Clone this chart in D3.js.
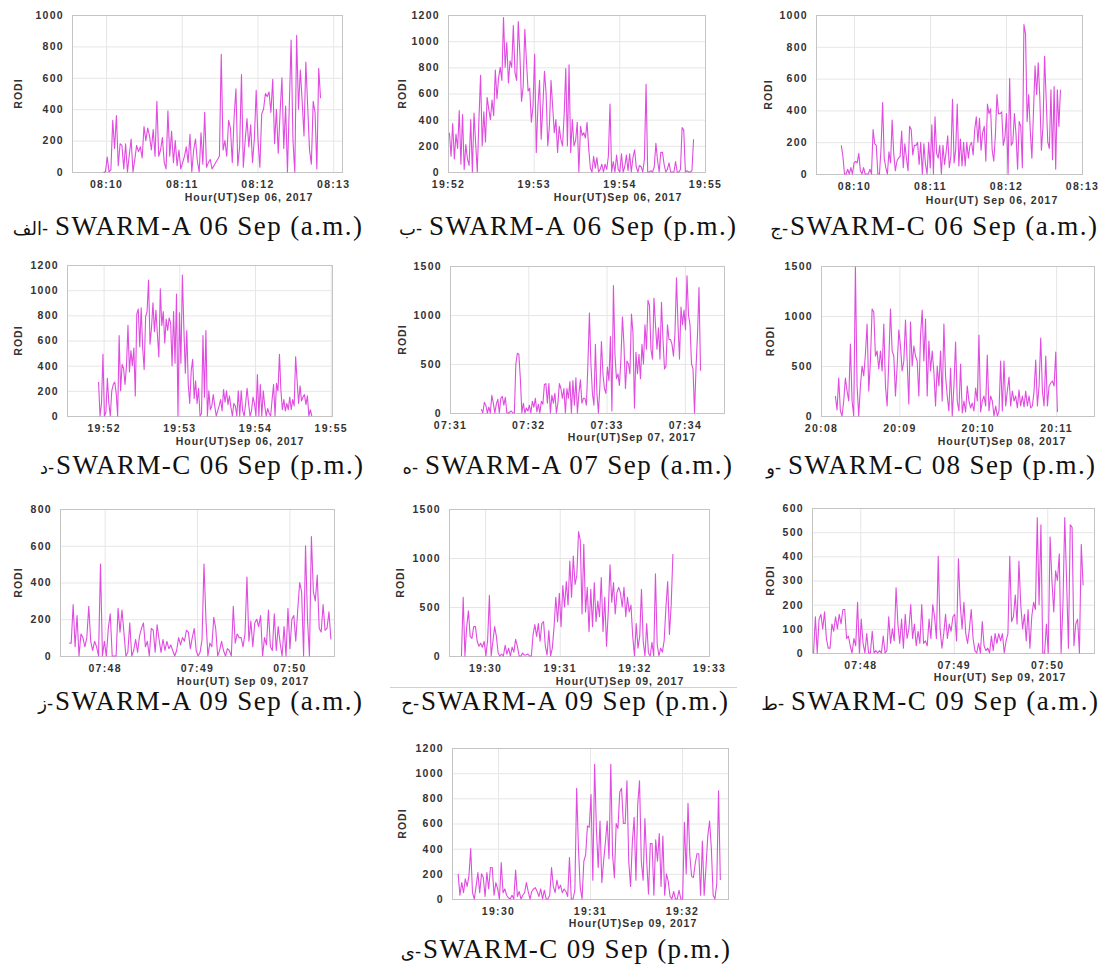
<!DOCTYPE html>
<html>
<head>
<meta charset="utf-8">
<script src="https://cdn.jsdelivr.net/npm/d3@7"></script>
<style>
  html, body { margin: 0; padding: 0; background: #fff; }
  svg { display: block; }
  .tick text { font-family: "Liberation Sans", Arial, sans-serif; font-weight: bold; font-size: 10.5px; fill: #333; letter-spacing: 1.3px; }
  .lbl { font-family: "Liberation Sans", Arial, sans-serif; font-weight: bold; font-size: 10.5px; fill: #333; letter-spacing: 1px; }
  .cap { font-family: "Liberation Serif", "Times New Roman", serif; font-size: 27px; fill: #111; }
  .capAr { font-family: "DejaVu Serif", "Noto Sans", "DejaVu Sans", serif; font-size: 18px; fill: #111; }
</style>
</head>
<body>
<svg id="chart" width="1102" height="969"></svg>
<script>
// ---------------- DATA ----------------
const p1Values = [0,0,95,0,15,330,150,360,40,180,170,20,180,0,110,210,0,80,170,130,160,90,290,200,280,230,140,270,100,450,100,140,220,60,20,390,100,260,60,200,40,140,20,60,100,160,60,240,0,140,210,70,0,250,50,380,30,60,80,20,40,60,80,100,750,140,200,100,330,280,60,350,530,40,160,620,30,200,340,160,300,60,210,520,200,30,370,400,500,480,510,380,590,180,400,120,380,600,150,420,0,420,840,200,0,870,400,650,450,230,700,420,140,50,450,380,20,660,470];
const p2Values = [300,120,370,100,290,180,470,60,440,20,210,100,50,400,0,450,220,0,400,740,200,460,230,570,480,400,550,430,780,560,720,800,700,1180,800,990,680,850,800,1120,760,700,1150,900,540,650,1090,850,620,640,380,500,900,150,500,700,250,500,770,600,200,350,700,500,300,400,150,350,250,200,430,790,200,820,150,400,200,240,380,0,350,280,300,260,380,180,30,0,120,30,110,0,20,60,0,60,20,120,520,0,80,0,130,20,0,140,0,40,130,10,140,0,110,170,40,0,50,40,0,100,670,0,0,10,0,40,220,90,0,150,150,60,0,20,70,0,0,0,80,0,0,20,340,320,0,10,0,0,10,250];
const p3Values = [180,110,0,0,30,0,40,0,70,80,70,130,20,0,40,0,0,0,30,0,280,190,180,0,0,160,450,100,40,0,140,70,340,130,20,80,100,110,270,40,190,100,20,300,280,120,180,180,200,60,200,0,190,60,0,200,40,310,0,360,130,100,180,0,180,60,140,240,40,110,470,70,150,440,50,220,50,200,50,200,100,180,200,120,280,360,200,350,150,260,300,80,440,380,410,150,80,240,500,380,380,390,180,230,380,0,600,180,200,380,250,30,330,300,40,940,880,330,500,270,100,390,680,500,700,480,150,300,740,470,200,160,530,90,550,30,530,300,530];
const p4Values = [270,0,100,490,0,30,300,100,0,200,250,270,180,0,640,200,410,380,250,400,720,350,520,400,540,160,810,850,550,860,540,370,790,830,1080,570,700,900,670,840,650,470,1010,720,830,580,770,680,780,740,400,830,420,970,0,820,420,1120,700,340,680,250,100,360,450,140,280,100,220,0,20,640,150,680,0,200,50,80,170,80,0,40,80,130,40,210,110,200,90,160,70,0,100,80,0,200,0,200,40,0,100,220,100,0,40,150,100,0,330,0,250,0,200,80,0,60,20,0,130,250,0,260,200,490,200,50,130,40,100,50,150,50,130,80,470,280,100,240,120,150,170,90,160,0,50,0];
const p5Values = [40,0,110,80,0,60,0,180,100,0,90,140,0,150,170,80,160,0,0,10,20,0,0,500,610,600,350,0,100,0,50,20,80,0,120,60,150,10,90,0,120,90,290,300,100,300,0,180,100,200,0,100,300,250,150,250,0,250,150,320,0,330,80,360,0,200,340,100,150,150,80,500,1020,500,200,80,700,200,0,280,730,400,250,200,470,330,780,20,1300,600,350,400,280,560,980,700,250,530,500,400,1010,820,50,620,400,600,350,700,500,900,650,1150,1100,650,550,1170,900,650,870,550,1130,750,450,480,900,750,750,700,580,820,1380,900,550,1080,900,1050,850,1400,1000,900,500,450,0,460,800,1280,430];
const p6Values = [200,60,380,50,0,150,380,250,150,720,150,0,1490,300,0,300,500,400,620,920,250,550,1070,1040,600,650,470,650,450,920,300,100,550,1070,650,600,200,500,860,700,450,550,960,550,120,940,500,700,600,550,200,800,1060,550,970,200,750,450,650,440,100,500,300,650,150,920,400,200,50,480,0,300,740,150,50,520,30,150,40,300,150,80,130,50,280,150,810,40,150,200,100,610,50,200,150,0,100,0,50,550,50,550,100,250,390,100,250,150,200,80,260,100,200,90,250,100,200,80,100,250,560,100,300,780,250,100,600,100,300,330,350,300,640,40];
const p7Values = [70,70,280,50,220,0,120,100,50,100,270,80,30,80,50,0,500,0,80,0,150,230,0,0,0,260,130,250,130,0,20,180,0,30,90,20,110,150,180,50,80,0,150,140,20,170,90,20,90,30,80,40,60,30,0,30,100,60,100,80,140,130,40,100,150,30,0,20,90,500,200,0,70,50,210,150,0,30,80,30,0,40,30,0,270,70,120,100,100,50,120,430,80,190,50,180,200,160,220,0,100,60,250,50,30,230,30,160,70,0,160,0,260,40,200,220,80,250,400,350,0,600,200,0,650,350,300,440,150,130,280,140,150,240,90];
const p8Values = [0,600,0,300,460,200,180,300,300,150,100,130,90,150,0,170,620,0,150,300,200,30,0,20,0,110,20,80,0,90,40,170,100,0,0,30,10,10,20,0,0,220,320,200,330,150,330,350,100,10,260,0,80,300,600,350,640,300,720,500,760,520,970,600,1020,730,820,1270,1180,430,1140,450,700,250,680,300,750,350,560,400,800,250,600,100,450,930,550,750,430,650,700,640,500,700,400,600,450,520,200,0,330,80,200,680,150,0,330,30,0,140,0,840,120,0,80,40,160,500,760,220,520,1040];
const p9Values = [0,150,0,140,160,100,170,60,20,20,120,90,150,100,160,120,180,180,60,70,30,0,60,30,210,0,140,40,0,80,0,0,90,0,10,0,10,0,70,0,10,150,40,100,50,270,120,40,140,20,160,60,100,200,60,120,30,90,40,200,40,50,30,140,60,200,150,60,400,100,20,80,160,60,120,90,150,160,50,390,200,100,210,80,40,100,180,60,10,0,40,0,130,30,10,20,0,70,10,80,40,80,50,80,0,50,80,400,130,150,240,120,380,200,100,160,50,180,20,150,210,180,560,200,530,0,0,120,0,480,300,170,340,300,410,0,200,560,300,20,530,520,30,120,140,0,450,280];
const p10Values = [200,30,130,50,160,100,180,400,50,0,100,210,50,200,170,20,210,80,250,250,30,130,80,0,290,50,80,30,10,0,30,0,230,20,60,0,30,50,130,60,0,60,80,90,60,20,80,0,70,0,0,30,250,100,50,150,80,110,50,80,60,20,330,0,0,70,880,400,90,0,300,350,580,570,830,150,1070,550,250,620,130,300,450,620,320,1070,350,170,600,560,850,880,600,600,940,300,100,450,650,150,750,940,300,150,640,300,40,440,440,30,470,300,520,100,500,30,200,140,20,0,60,0,0,70,0,0,610,200,760,350,180,170,280,360,360,30,460,30,250,500,620,400,30,0,120,860,150];

// first and last sample times of each series (UT)
const spans = [
  ["08:09:58","08:12:50"], ["19:52:01","19:54:52"], ["08:09:50","08:12:43"],
  ["19:51:56","19:54:45"], ["07:31:24","07:34:12"], ["20:08:11","20:11:01"],
  ["07:47:37","07:50:27"], ["19:29:41","19:32:31"], ["07:47:30","07:50:23"],
  ["19:29:34","19:32:25"]
];
// x tick labels
const xTicks = [
  ["08:10","08:11","08:12","08:13"], ["19:52","19:53","19:54","19:55"],
  ["08:10","08:11","08:12","08:13"], ["19:52","19:53","19:54","19:55"],
  ["07:31","07:32","07:33","07:34"], ["20:08","20:09","20:10","20:11"],
  ["07:48","07:49","07:50"], ["19:30","19:31","19:32","19:33"],
  ["07:48","07:49","07:50"], ["19:30","19:31","19:32"]
];
// y axis maxima and tick steps
const yMax  = [1000,1200,1000,1200,1500,1500,800,1500,600,1200];
const yStep = [200,200,200,200,500,500,200,500,100,200];
const dateLabels = ["Hour(UT)Sep 06, 2017","Hour(UT)Sep 06, 2017","Hour(UT) Sep 06, 2017",
  "Hour(UT)Sep 06, 2017","Hour(UT)Sep 07, 2017","Hour(UT)Sep 08, 2017",
  "Hour(UT) Sep 09, 2017","Hour(UT)Sep 09, 2017","Hour(UT) Sep 09, 2017","Hour(UT)Sep 09, 2017"];
const capLetters = ["الف","ب","ج","د","ه","و","ز","ح","ط","ی"];
const capTexts = ["SWARM-A 06 Sep (a.m.)","SWARM-A 06 Sep (p.m.)","SWARM-C 06 Sep (a.m.)",
  "SWARM-C 06 Sep (p.m.)","SWARM-A 07 Sep (a.m.)","SWARM-C 08 Sep (p.m.)",
  "SWARM-A 09 Sep (a.m.)","SWARM-A 09 Sep (p.m.)","SWARM-C 09 Sep (a.m.)","SWARM-C 09 Sep (p.m.)"];
const allValues = [p1Values,p2Values,p3Values,p4Values,p5Values,p6Values,p7Values,p8Values,p9Values,p10Values];

// ---------------- LAYOUT ----------------
const layout = [
  {box:[72,15,342,172],  dom:["08:09:33","08:13:07"], rodiX:18,  hour:[249,197], capEnd:362,  capY:235, gap:7},
  {box:[448,15,705,172], dom:["19:52:00","19:55:00"], rodiX:402, hour:[618,197], capEnd:736,  capY:235, gap:7},
  {box:[816,15,1082,174],dom:["08:09:30","08:13:00"], rodiX:768, hour:[992,200], capEnd:1097, capY:235, gap:2},
  {box:[67,265,332,416], dom:["19:51:31","19:55:01"], rodiX:18,  hour:[240,441], capEnd:363,  capY:474, gap:2},
  {box:[450,266,724,413],dom:["07:31:00","07:34:30"], rodiX:402, hour:[632,437], capEnd:732,  capY:474, gap:7},
  {box:[821,266,1094,416],dom:["20:08:00","20:11:29"],rodiX:770, hour:[1002,441],capEnd:1095, capY:474, gap:7},
  {box:[60,509,334,656], dom:["07:47:31","07:50:29"], rodiX:18,  hour:[243,681], capEnd:362,  capY:710, gap:2},
  {box:[449,509,709,656],dom:["19:29:31","19:33:00"], rodiX:400, hour:[620,681], capEnd:728,  capY:710, gap:2},
  {box:[812,508,1094,653],dom:["07:47:29","07:50:30"],rodiX:770, hour:[1000,677],capEnd:1098, capY:710, gap:7},
  {box:[452,748,728,899],dom:["19:29:30","19:32:30"], rodiX:402, hour:[633,923], capEnd:730,  capY:958, gap:2}
];
const capWidth = 307;
const lineColor = "#e04ce0";

const toSec = s => { const p = s.split(":").map(Number); return p[0]*3600 + p[1]*60 + (p[2]||0); };
const svg = d3.select("#chart");

// separator line under panel 8
svg.append("line").attr("x1",390).attr("x2",737).attr("y1",687.5).attr("y2",687.5)
  .attr("stroke","#d0d0d0").attr("stroke-width",1);

layout.forEach((L, k) => {
  const [x0,y0,x1,y1] = L.box;
  const x = d3.scaleLinear().domain([toSec(L.dom[0]), toSec(L.dom[1])]).range([x0,x1]);
  const y = d3.scaleLinear().domain([0, yMax[k]]).range([y1,y0]);
  const g = svg.append("g");
  const yt = d3.range(0, yMax[k] + 1, yStep[k]);
  const xt = xTicks[k].map(toSec);

  // grid
  g.append("g").attr("transform",`translate(0,${y1})`)
    .call(d3.axisBottom(x).tickValues(xt).tickSize(-(y1-y0)).tickFormat(""))
    .call(a => { a.select(".domain").remove(); a.selectAll("line").attr("stroke","#e6e6e6"); });
  g.append("g").attr("transform",`translate(${x0},0)`)
    .call(d3.axisLeft(y).tickValues(yt).tickSize(-(x1-x0)).tickFormat(""))
    .call(a => { a.select(".domain").remove(); a.selectAll("line").attr("stroke","#e6e6e6"); });

  // box
  g.append("rect").attr("x",x0+0.5).attr("y",y0+0.5).attr("width",x1-x0).attr("height",y1-y0)
    .attr("fill","none").attr("stroke","#c4c4c4").attr("stroke-width",1);

  // line
  const vals = allValues[k];
  const t0 = toSec(spans[k][0]), t1 = toSec(spans[k][1]);
  const pts = vals.map((v,i) => [t0 + (t1-t0)*i/(vals.length-1), v]);
  g.append("path").datum(pts)
    .attr("d", d3.line().x(d => x(d[0])).y(d => y(d[1])))
    .attr("fill","none").attr("stroke",lineColor).attr("stroke-width",1.1)
    .attr("stroke-linejoin","round");

  // axis labels
  g.append("g").attr("transform",`translate(0,${y1})`)
    .call(d3.axisBottom(x).tickValues(xt).tickSize(0).tickPadding(9).tickFormat((d,i) => xTicks[k][i]))
    .call(a => a.select(".domain").remove());
  g.append("g").attr("transform",`translate(${x0},0)`)
    .call(d3.axisLeft(y).tickValues(yt).tickSize(0).tickPadding(8).tickFormat(d3.format("d")))
    .call(a => a.select(".domain").remove());

  g.append("text").attr("class","lbl").attr("text-anchor","middle")
    .attr("transform",`translate(${L.rodiX + 4},${(y0+y1)/2}) rotate(-90)`).text("RODI");
  g.append("text").attr("class","lbl").attr("text-anchor","middle")
    .attr("x",L.hour[0]).attr("y",L.hour[1] + 4).text(dateLabels[k]);

  // caption
  const cs = L.capEnd - capWidth;
  svg.append("text").attr("class","cap").attr("x",cs).attr("y",L.capY)
    .attr("textLength",capWidth).attr("lengthAdjust","spacing").text(capTexts[k]);
  svg.append("text").attr("class","capAr").attr("x",cs - L.gap).attr("y",L.capY)
    .attr("text-anchor","end").attr("direction","ltr").text(capLetters[k] + "-");
});
</script>
</body>
</html>
